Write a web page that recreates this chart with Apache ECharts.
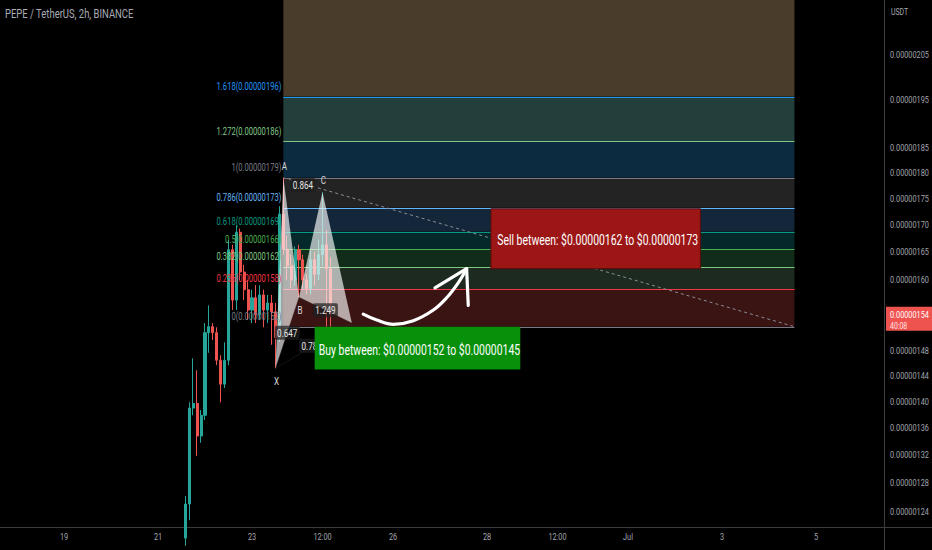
<!DOCTYPE html>
<html>
<head>
<meta charset="utf-8">
<script src="https://cdn.jsdelivr.net/npm/echarts@6/dist/echarts.min.js"></script>
<style>
html,body{margin:0;padding:0;background:#000;overflow:hidden;}
#chart{width:932px;height:550px;}
</style>
</head>
<body>
<div id="chart"></div>
<script>
// ===== DATA (prices in micro-USDT, 1 = 0.000001 USDT) =====
const candleTimes = [
 '2023-06-21T14:00Z','2023-06-21T16:00Z','2023-06-21T18:00Z','2023-06-21T20:00Z','2023-06-21T22:00Z',
 '2023-06-22T00:00Z','2023-06-22T02:00Z','2023-06-22T04:00Z','2023-06-22T06:00Z','2023-06-22T08:00Z',
 '2023-06-22T10:00Z','2023-06-22T12:00Z','2023-06-22T14:00Z','2023-06-22T16:00Z','2023-06-22T18:00Z',
 '2023-06-22T20:00Z','2023-06-22T22:00Z','2023-06-23T00:00Z','2023-06-23T02:00Z','2023-06-23T04:00Z',
 '2023-06-23T06:00Z','2023-06-23T08:00Z','2023-06-23T10:00Z','2023-06-23T12:00Z','2023-06-23T14:00Z',
 '2023-06-23T16:00Z','2023-06-23T18:00Z','2023-06-23T20:00Z','2023-06-23T22:00Z','2023-06-24T00:00Z',
 '2023-06-24T02:00Z','2023-06-24T04:00Z','2023-06-24T06:00Z','2023-06-24T08:00Z','2023-06-24T10:00Z',
 '2023-06-24T12:00Z','2023-06-24T14:00Z','2023-06-24T16:00Z'
];
const openP  = [1.205,1.251,1.390,1.397,1.348,1.379,1.510,1.520,1.510,1.465,1.427,1.465,1.654,1.565,1.686,1.614,1.583,1.548,1.569,1.540,1.574,1.548,1.560,1.545,1.502,1.720,1.655,1.625,1.600,1.654,1.636,1.600,1.585,1.636,1.610,1.645,1.663,1.620];
const closeP = [1.251,1.390,1.397,1.348,1.379,1.510,1.520,1.510,1.465,1.427,1.465,1.654,1.565,1.686,1.614,1.583,1.548,1.569,1.540,1.574,1.548,1.560,1.545,1.502,1.720,1.655,1.625,1.600,1.654,1.636,1.600,1.585,1.636,1.610,1.645,1.663,1.620,1.540];
const lowP   = [1.195,1.229,1.379,1.319,1.338,1.372,1.477,1.498,1.457,1.399,1.421,1.457,1.548,1.548,1.600,1.565,1.531,1.526,1.526,1.531,1.519,1.526,1.490,1.452,1.495,1.645,1.600,1.585,1.590,1.570,1.585,1.575,1.575,1.590,1.600,1.625,1.520,1.520];
const highP  = [1.262,1.399,1.468,1.449,1.387,1.526,1.556,1.526,1.519,1.473,1.494,1.672,1.663,1.699,1.693,1.627,1.600,1.583,1.591,1.591,1.583,1.574,1.574,1.560,1.735,1.790,1.680,1.645,1.660,1.663,1.645,1.610,1.654,1.650,1.672,1.762,1.690,1.640];

const lastPrice = 1.54;
const lastPriceText = '0.00000154';
const countdownText = '40:08';

const fibStart = '2023-06-23T16:00Z';
const fibEnd = '2023-07-04T13:00Z';
const fibLevels = ['2.618','1.618','1.272','1','0.786','0.618','0.5','0.382','0.236','0'];
const fibPrices = [2.227,1.957,1.863,1.790,1.732,1.687,1.655,1.623,1.584,1.520];
const fibPriceText = ['0.00000223','0.00000196','0.00000186','0.00000179','0.00000173','0.00000169','0.00000166','0.00000162','0.00000158','0.00000152'];
const fibColors = ['#f23645','#2196f3','#81c784','#787b86','#64b5f6','#089981','#4caf50','#81c784','#f23645','#787b86'];
const fibZoneColors = ['#4a3c2b','#223f3b','#0c2a40','#232323','#14273a','#05292a','#112d1a','#1c2a20','#3a1313'];

const patternNames = ['X','A','B','C','D'];
const patternTimes = ['2023-06-23T12:00Z','2023-06-23T16:00Z','2023-06-24T00:00Z','2023-06-24T12:00Z','2023-06-25T03:00Z'];
const patternPrices = [1.452,1.790,1.570,1.762,1.526];
const ratioSegments = [[0,2],[1,3],[2,4],[0,4]];
const ratioLabels = ['0.647','0.864','1.249','0.786'];

const boxFrom = ['2023-06-28T02:00Z','2023-06-24T08:00Z'];
const boxTo = ['2023-07-02T13:00Z','2023-06-28T17:00Z'];
const boxHigh = [1.73,1.52];
const boxLow = [1.62,1.45];
const boxText = ['Sell between: $0.00000162 to $0.00000173','Buy between: $0.00000152 to $0.00000145'];
const boxFill = ['#9c1616','#08900b'];

const arrowTimes = ['2023-06-25T08:48Z','2023-06-25T15:42Z','2023-06-26T00:12Z','2023-06-26T10:24Z','2023-06-26T20:36Z','2023-06-27T03:24Z','2023-06-27T09:18Z','2023-06-27T13:36Z'];
const arrowPrices = [1.541,1.531,1.524,1.530,1.548,1.569,1.595,1.620];
const arrowHeadTimes = ['2023-06-26T21:26Z','2023-06-27T13:36Z','2023-06-27T14:26Z'];
const arrowHeadPrices = [1.586,1.620,1.556];

const xRange = ['2023-06-17T15:19Z','2023-07-06T10:44Z'];
const yRange = [1.2198, 2.176];
const xTickTimes = ['2023-06-19T00:00Z','2023-06-21T00:00Z','2023-06-23T00:00Z','2023-06-24T12:00Z','2023-06-26T00:00Z','2023-06-28T00:00Z','2023-06-29T12:00Z','2023-07-01T00:00Z','2023-07-03T00:00Z','2023-07-05T00:00Z'];
const xTickLabels = ['19','21','23','12:00','26','28','12:00','Jul','3','5'];
const yTickValues = [2.05,1.95,1.85,1.80,1.75,1.70,1.65,1.60,1.48,1.44,1.40,1.36,1.32,1.28,1.24];
const yTickLabels = ['0.00000205','0.00000195','0.00000185','0.00000180','0.00000175','0.00000170','0.00000165','0.00000160','0.00000148','0.00000144','0.00000140','0.00000136','0.00000132','0.00000128','0.00000124'];

const titleText = 'PEPE / TetherUS, 2h, BINANCE';
const unitText = 'USDT';

// ===== RENDERING =====
const T = s => Date.parse(s);
const FONT = 'Roboto, "Noto Sans", "DejaVu Sans", sans-serif';
const SX = 0.77;
const AXIS_TEXT = '#a3a6ae';
const FRAME = '#3c3c3c';

function txt(x, y, text, color, size, align, extra, sx) {
  return {
    type: 'text', x: x, y: y, scaleX: sx == null ? SX : sx,
    style: Object.assign({text: text, fill: color, fontSize: size, fontFamily: FONT,
      align: align || 'left', verticalAlign: 'middle'}, extra || {})
  };
}

const chart = echarts.init(document.getElementById('chart'), null, {renderer: 'svg'});

const option = {
  backgroundColor: '#000000',
  animation: false,
  grid: {left: 0, right: 48, top: 0, bottom: 23, containLabel: false},
  xAxis: {
    type: 'time', min: T(xRange[0]), max: T(xRange[1]),
    axisLine: {show: true, lineStyle: {color: FRAME, width: 1}},
    axisTick: {show: false}, axisLabel: {show: false}, splitLine: {show: false}
  },
  yAxis: {
    type: 'log', logBase: 10, position: 'right', min: yRange[0], max: yRange[1],
    axisLine: {show: true, lineStyle: {color: FRAME, width: 1}},
    axisTick: {show: false}, axisLabel: {show: false}, splitLine: {show: false}
  },
  graphic: [
    txt(5, 14, titleText, '#a8abb4', 12, 'left', null, 0.79),
    txt(891, 12, unitText, AXIS_TEXT, 9, 'left', null),
    {type: 'line', shape: {x1: 884, y1: 527.5, x2: 932, y2: 527.5}, style: {stroke: FRAME, lineWidth: 1}},
    {type: 'line', shape: {x1: 884.5, y1: 527, x2: 884.5, y2: 550}, style: {stroke: FRAME, lineWidth: 1}}
  ],
  series: [
    { // fib zones
      type: 'custom', z: 1, clip: true, silent: true,
      data: fibZoneColors.map((c, k) => [T(fibStart), T(fibEnd), fibPrices[k], fibPrices[k + 1]]),
      encode: {x: [0, 1], y: [2, 3]},
      renderItem: function (params, api) {
        const p1 = api.coord([api.value(0), api.value(2)]);
        const p2 = api.coord([api.value(1), api.value(3)]);
        return {type: 'rect', shape: {x: p1[0], y: p1[1], width: p2[0] - p1[0], height: p2[1] - p1[1]},
          style: {fill: fibZoneColors[params.dataIndex]}};
      }
    },
    { // fib lines
      type: 'custom', z: 2, clip: true, silent: true,
      data: fibPrices.map(p => [T(fibStart), T(fibEnd), p]),
      encode: {x: [0, 1], y: 2},
      renderItem: function (params, api) {
        const p1 = api.coord([api.value(0), api.value(2)]);
        const p2 = api.coord([api.value(1), api.value(2)]);
        const y = Math.round(p1[1]) + 0.5;
        return {type: 'line', shape: {x1: p1[0], y1: y, x2: p2[0], y2: y},
          style: {stroke: fibColors[params.dataIndex], lineWidth: 1}};
      }
    },
    { // fib trend line
      type: 'line', z: 2, silent: true, symbol: 'none',
      data: [[T(fibStart), fibPrices[3]], [T(fibEnd), fibPrices[9]]],
      lineStyle: {color: '#8a8d96', width: 1, type: [3, 3]}
    },
    { // candles
      type: 'candlestick', z: 3, silent: true, barWidth: 2.6,
      data: candleTimes.map((t, i) => [T(t), openP[i], closeP[i], lowP[i], highP[i]]),
      encode: {x: 0, y: [1, 2, 3, 4]},
      itemStyle: {color: '#26a69a', color0: '#ef5350', borderColor: '#26a69a', borderColor0: '#ef5350', borderWidth: 1}
    },
    { // harmonic pattern
      type: 'custom', z: 4, silent: true,
      data: patternTimes.map((t, k) => [T(t), patternPrices[k]]),
      encode: {x: 0, y: 1},
      renderItem: function (params, api) {
        const i = params.dataIndex;
        const pts = patternTimes.map((t, k) => api.coord([T(t), patternPrices[k]]));
        const children = [];
        if (i === 0) {
          children.push({type: 'polygon', shape: {points: [pts[0], pts[1], pts[2]]}, style: {fill: 'rgba(255,255,255,0.64)'}});
          children.push({type: 'polygon', shape: {points: [pts[2], pts[3], pts[4]]}, style: {fill: 'rgba(255,255,255,0.64)'}});
          ratioSegments.forEach((s, k) => {
            const a = pts[s[0]], b = pts[s[1]];
            children.push({type: 'line', shape: {x1: a[0], y1: a[1], x2: b[0], y2: b[1]},
              style: {stroke: 'rgba(70,50,50,0.35)', lineWidth: 1}});
            children.push(txt((a[0] + b[0]) / 2 - (k === 3 ? 2 : 0), (a[1] + b[1]) / 2, ratioLabels[k], '#e6e6e6', 10.5, 'center',
              {backgroundColor: 'rgba(30,30,30,0.72)', padding: [2, 3, 1, 3], borderRadius: 2}));
          });
        }
        const p = pts[i];
        const above = (i === 1 || i === 3);
        children.push(txt(p[0] + 1, p[1] + (above ? -12 : 13), patternNames[i], '#d8d8d8', 10.5, 'center'));
        return {type: 'group', children: children};
      }
    },
    { // fib labels (levels on screen)
      type: 'custom', z: 5, silent: true,
      data: fibPrices.slice(1).map(p => [T(fibStart), p]),
      encode: {x: 0, y: 1},
      renderItem: function (params, api) {
        const k = params.dataIndex + 1;
        const p = api.coord([api.value(0), api.value(1)]);
        return txt(p[0] - 2, p[1] - 10, fibLevels[k] + '(' + fibPriceText[k] + ')', fibColors[k], 10, 'right', null, 0.76);
      }
    },
    { // buy / sell boxes
      type: 'custom', z: 6, silent: true,
      data: boxText.map((s, k) => [T(boxFrom[k]), T(boxTo[k]), boxHigh[k], boxLow[k]]),
      encode: {x: [0, 1], y: [2, 3]},
      renderItem: function (params, api) {
        const k = params.dataIndex;
        const p1 = api.coord([api.value(0), api.value(2)]);
        const p2 = api.coord([api.value(1), api.value(3)]);
        return {type: 'group', children: [
          {type: 'rect', shape: {x: p1[0], y: p1[1], width: p2[0] - p1[0], height: p2[1] - p1[1]},
            style: {fill: boxFill[k], stroke: k === 0 ? '#5a0c0c' : null, lineWidth: 1}},
          txt((p1[0] + p2[0]) / 2 + 2, (p1[1] + p2[1]) / 2 + 2, boxText[k], '#ffffff', 14, 'center', null, 0.745)
        ]};
      }
    },
    { // arrow curve
      type: 'line', z: 7, silent: true, symbol: 'none', smooth: 0.4,
      data: arrowTimes.map((t, k) => [T(t), arrowPrices[k]]),
      lineStyle: {color: '#ffffff', width: 3.2, cap: 'round'}
    },
    { // arrow head
      type: 'line', z: 7, silent: true, symbol: 'none',
      data: arrowHeadTimes.map((t, k) => [T(t), arrowHeadPrices[k]]),
      lineStyle: {color: '#ffffff', width: 3.2, cap: 'round', join: 'round'}
    },
    { // y tick labels
      type: 'custom', z: 8, silent: true, clip: false,
      data: yTickValues.map(v => [T(xRange[1]), v]),
      encode: {x: 0, y: 1},
      renderItem: function (params, api) {
        const cs = params.coordSys;
        const p = api.coord([api.value(0), api.value(1)]);
        return txt(cs.x + cs.width + 6, p[1], yTickLabels[params.dataIndex], AXIS_TEXT, 9.5, 'left');
      }
    },
    { // x tick labels
      type: 'custom', z: 8, silent: true, clip: false,
      data: xTickTimes.map(t => [T(t), yRange[0]]),
      encode: {x: 0, y: 1},
      renderItem: function (params, api) {
        const cs = params.coordSys;
        const p = api.coord([api.value(0), api.value(1)]);
        return txt(p[0], cs.y + cs.height + 10, xTickLabels[params.dataIndex], AXIS_TEXT, 9.5, 'center');
      }
    },
    { // last price label
      type: 'custom', z: 9, silent: true, clip: false,
      data: [[T(xRange[1]), lastPrice]],
      encode: {x: 0, y: 1},
      renderItem: function (params, api) {
        const cs = params.coordSys;
        const p = api.coord([api.value(0), api.value(1)]);
        const x0 = cs.x + cs.width + 2;
        return {type: 'group', children: [
          {type: 'rect', shape: {x: x0, y: p[1] - 8, width: 932 - x0, height: 24}, style: {fill: '#ef5350'}},
          txt(x0 + 4, p[1], lastPriceText, '#ffffff', 9.5, 'left'),
          txt(x0 + 4, p[1] + 11, countdownText, '#ffe0e0', 9, 'left')
        ]};
      }
    }
  ]
};
chart.setOption(option);
</script>
</body>
</html>
